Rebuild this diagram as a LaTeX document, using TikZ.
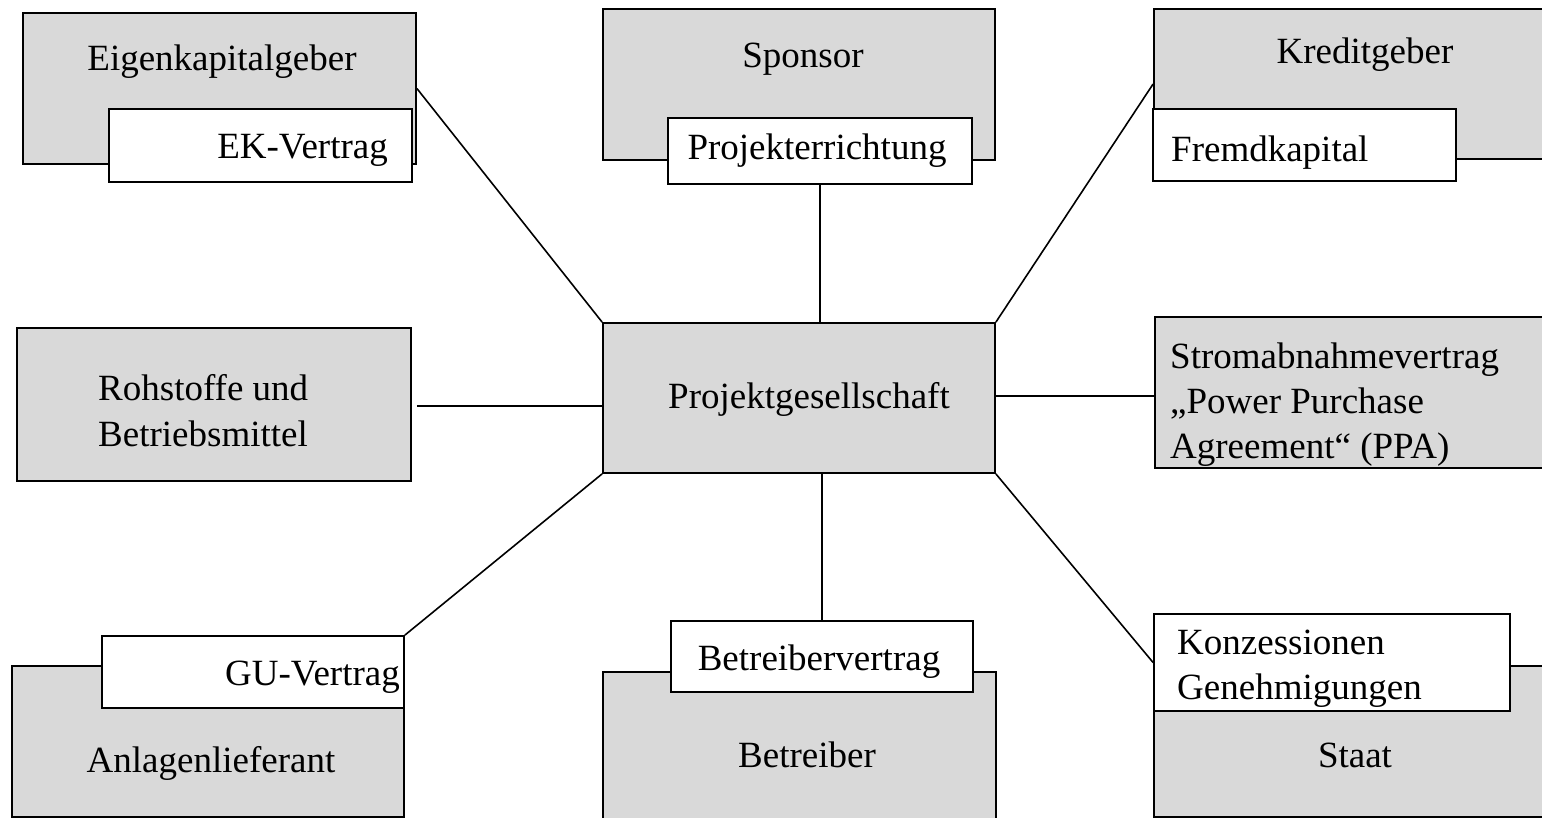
\documentclass[tikz,border=0pt]{standalone}
\usepackage{fontspec}
\setmainfont{Liberation Serif}
\definecolor{boxgray}{HTML}{D9D9D9}
\tikzset{
  gbox/.style={draw=black, fill=boxgray, line width=1.8pt, inner sep=0pt},
  wbox/.style={draw=black, fill=white, line width=1.8pt, inner sep=0pt},
  lbl/.style={inner sep=0pt, font=\fontsize{37}{45}\selectfont},
  conn/.style={draw=black, line width=1.6pt}
}
\begin{document}
\begin{tikzpicture}[x=1pt,y=-1pt]
\path[use as bounding box] (0,0) rectangle (1542,818);
\clip (0,0) rectangle (1542,818);
% boxes
\node[gbox, minimum width=393pt, minimum height=151pt] (ek) at (219.5,88.5) {};
\node[wbox, minimum width=303pt, minimum height=73pt] (ekv) at (260.5,145.5) {};
\node[gbox, minimum width=392pt, minimum height=151pt] (sp) at (799,84.5) {};
\node[wbox, minimum width=304pt, minimum height=66pt] (pe) at (820,151) {};
\node[gbox, minimum width=406pt, minimum height=150pt] (kr) at (1357,84) {};
\node[wbox, minimum width=303pt, minimum height=72pt] (fk) at (1304.5,145) {};
\node[gbox, minimum width=394pt, minimum height=153pt] (roh) at (214,404.5) {};
\node[gbox, minimum width=392pt, minimum height=150pt] (pg) at (799,398) {};
\node[gbox, minimum width=405pt, minimum height=151pt] (st) at (1357.5,392.5) {};
\node[gbox, minimum width=392pt, minimum height=151pt] (an) at (208,741.5) {};
\node[wbox, minimum width=302pt, minimum height=72pt] (gu) at (253,672) {};
\node[gbox, minimum width=393pt, minimum height=158pt] (be) at (799.5,751) {};
\node[wbox, minimum width=302pt, minimum height=71pt] (bv) at (822,656.5) {};
\node[gbox, minimum width=406pt, minimum height=151pt] (sta) at (1357,741.5) {};
\node[wbox, minimum width=356pt, minimum height=97pt] (ko) at (1332,662.5) {};
% texts
\node[lbl, anchor=base] (tek) at (222,71) {Eigenkapitalgeber};
\node[lbl, anchor=base east] (tekv) at (388,159) {EK-Vertrag};
\node[lbl, anchor=base] (tsp) at (803,68) {Sponsor};
\node[lbl, anchor=base] (tpe) at (817,160) {Projekterrichtung};
\node[lbl, anchor=base] (tkr) at (1365,64) {Kreditgeber};
\node[lbl, anchor=base west] (tfk) at (1171,162) {Fremdkapital};
\node[lbl, anchor=base west] (troh1) at (98,400) {Rohstoffe und};
\node[lbl, anchor=base west] (troh2) at (98,446) {Betriebsmittel};
\node[lbl, anchor=base] (tpg) at (809,408) {Projektgesellschaft};
\node[lbl, anchor=base west] (tst1) at (1170,368) {Stromabnahmevertrag};
\node[lbl, anchor=base west] (tst2) at (1170,413) {„Power Purchase};
\node[lbl, anchor=base west] (tst3) at (1170,458) {Agreement“ (PPA)};
\node[lbl, anchor=base east] (tgu) at (400,685) {GU-Vertrag};
\node[lbl, anchor=base] (tan) at (211,772) {Anlagenlieferant};
\node[lbl, anchor=base] (tbv) at (819,670) {Betreibervertrag};
\node[lbl, anchor=base] (tbe) at (807,767) {Betreiber};
\node[lbl, anchor=base west] (tko1) at (1177,654) {Konzessionen};
\node[lbl, anchor=base west] (tko2) at (1177,699) {Genehmigungen};
\node[lbl, anchor=base] (tsta) at (1355,767) {Staat};
% connectors
\draw[conn] (ek.east) -- (pg.north west);
\draw[conn] (pe.south) -- (pe.south |- pg.north);
\draw[conn] (kr.west) -- (pg.north east);
\draw[conn] ([xshift=5pt,yshift=-1.5pt]roh.east) -- ([yshift=-1.5pt]roh.east -| pg.west);
\draw[conn] ([yshift=2pt]pg.east) -- ([yshift=2pt]pg.east -| st.west);
\draw[conn] (gu.north east) -- (pg.south west);
\draw[conn] (bv.north) -- (bv.north |- pg.south);
\draw[conn] (pg.south east) -- (ko.west);
\end{tikzpicture}
\end{document}
